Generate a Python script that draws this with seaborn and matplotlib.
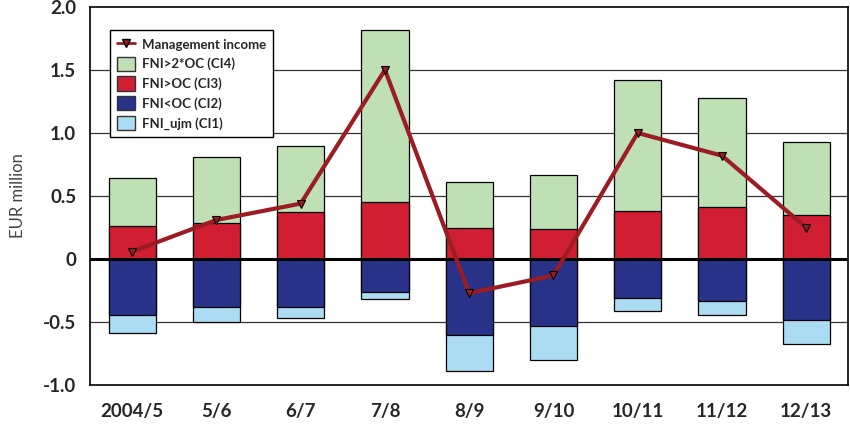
import numpy as np
import pandas as pd
import seaborn as sns
import matplotlib.pyplot as plt
from matplotlib.patches import Patch
from matplotlib.lines import Line2D

# Values (EUR million)
years = ['2004/5', '5/6', '6/7', '7/8', '8/9', '9/10', '10/11', '11/12', '12/13']
ci3 = [0.26, 0.29, 0.37, 0.45, 0.25, 0.24, 0.38, 0.41, 0.35]      # FNI>OC
ci4 = [0.38, 0.52, 0.53, 1.37, 0.36, 0.43, 1.04, 0.87, 0.58]      # FNI>2*OC, stacked on ci3
ci2 = [-0.44, -0.38, -0.38, -0.26, -0.60, -0.53, -0.31, -0.33, -0.48]  # FNI<OC
ci1 = [-0.15, -0.12, -0.09, -0.06, -0.29, -0.27, -0.10, -0.11, -0.19]  # FNI_ujm, below ci2
mgmt = [0.06, 0.31, 0.44, 1.50, -0.27, -0.13, 1.00, 0.82, 0.25]

df = pd.DataFrame({'year': years, 'ci1': ci1, 'ci2': ci2, 'ci3': ci3, 'ci4': ci4, 'mgmt': mgmt})
df['pos_top'] = df['ci3'] + df['ci4']
df['neg_bot'] = df['ci2'] + df['ci1']

c_green = '#bfe0b5'
c_red = '#d01f33'
c_blue = '#283289'
c_light = '#acdcf3'
c_line = '#9b1c22'

sns.set_style('white')
plt.rcParams['font.family'] = ['Lato', 'DejaVu Sans']

fig = plt.figure(figsize=(8.5, 4.28), dpi=100)
ax = fig.add_axes([0.106, 0.1, 0.892, 0.884])

# grid lines first so the bars sit on top
for yv in [-0.5, 0.5, 1.0, 1.5]:
    ax.axhline(yv, color='#333333', lw=0.9, zorder=0)

bar_kw = dict(width=0.56, edgecolor='black', linewidth=0.9, ax=ax, zorder=2)
# stacked bars drawn by overlapping: total first, then the inner segment
sns.barplot(data=df, x='year', y='pos_top', color=c_green, saturation=1, **bar_kw)
sns.barplot(data=df, x='year', y='ci3', color=c_red, saturation=1, **bar_kw)
sns.barplot(data=df, x='year', y='neg_bot', color=c_light, saturation=1, **bar_kw)
sns.barplot(data=df, x='year', y='ci2', color=c_blue, saturation=1, **bar_kw)

ax.axhline(0, color='black', lw=2.2, zorder=3)

sns.pointplot(data=df, x='year', y='mgmt', color=c_line, markers='v', linestyles='-',
              ax=ax, zorder=4, markersize=6, markeredgecolor='black', markeredgewidth=0.8,
              linewidth=3)

ax.set_ylim(-1.0, 2.0)
ax.set_xlim(-0.5, len(years) - 0.5)
ax.set_yticks([-1.0, -0.5, 0, 0.5, 1.0, 1.5, 2.0])
ax.set_yticklabels(['-1.0', '-0.5', '0', '0.5', '1.0', '1.5', '2.0'])
ax.tick_params(axis='both', length=0, labelsize=13.5)
ax.tick_params(axis='x', pad=13)
ax.tick_params(axis='y', pad=10)
for lab in ax.get_xticklabels() + ax.get_yticklabels():
    lab.set_fontweight('bold')
ax.set_xlabel('')
ax.set_ylabel('EUR million', fontsize=12, color='#444444', labelpad=12)
for s in ax.spines.values():
    s.set_color('black')
    s.set_linewidth(1.2)

handles = [
    Line2D([0], [0], color=c_line, lw=2, marker='v', markersize=6,
           markerfacecolor=c_line, markeredgecolor='black'),
    Patch(facecolor=c_green, edgecolor='#333333'),
    Patch(facecolor=c_red, edgecolor='#333333'),
    Patch(facecolor=c_blue, edgecolor='#333333'),
    Patch(facecolor=c_light, edgecolor='#333333'),
]
labels = ['Management income', 'FNI>2*OC (CI4)', 'FNI>OC (CI3)', 'FNI<OC (CI2)', 'FNI_ujm (CI1)']
leg = ax.legend(handles, labels, loc='upper left', bbox_to_anchor=(0.018, 0.955),
                frameon=True, fancybox=False, edgecolor='black', framealpha=1,
                prop={'weight': 'bold', 'size': 9.5}, handlelength=1.4, handleheight=1.3,
                handletextpad=0.5, borderpad=0.5, labelspacing=0.4)
leg.get_frame().set_linewidth(1.0)

fig.savefig('out.png', dpi=100)
